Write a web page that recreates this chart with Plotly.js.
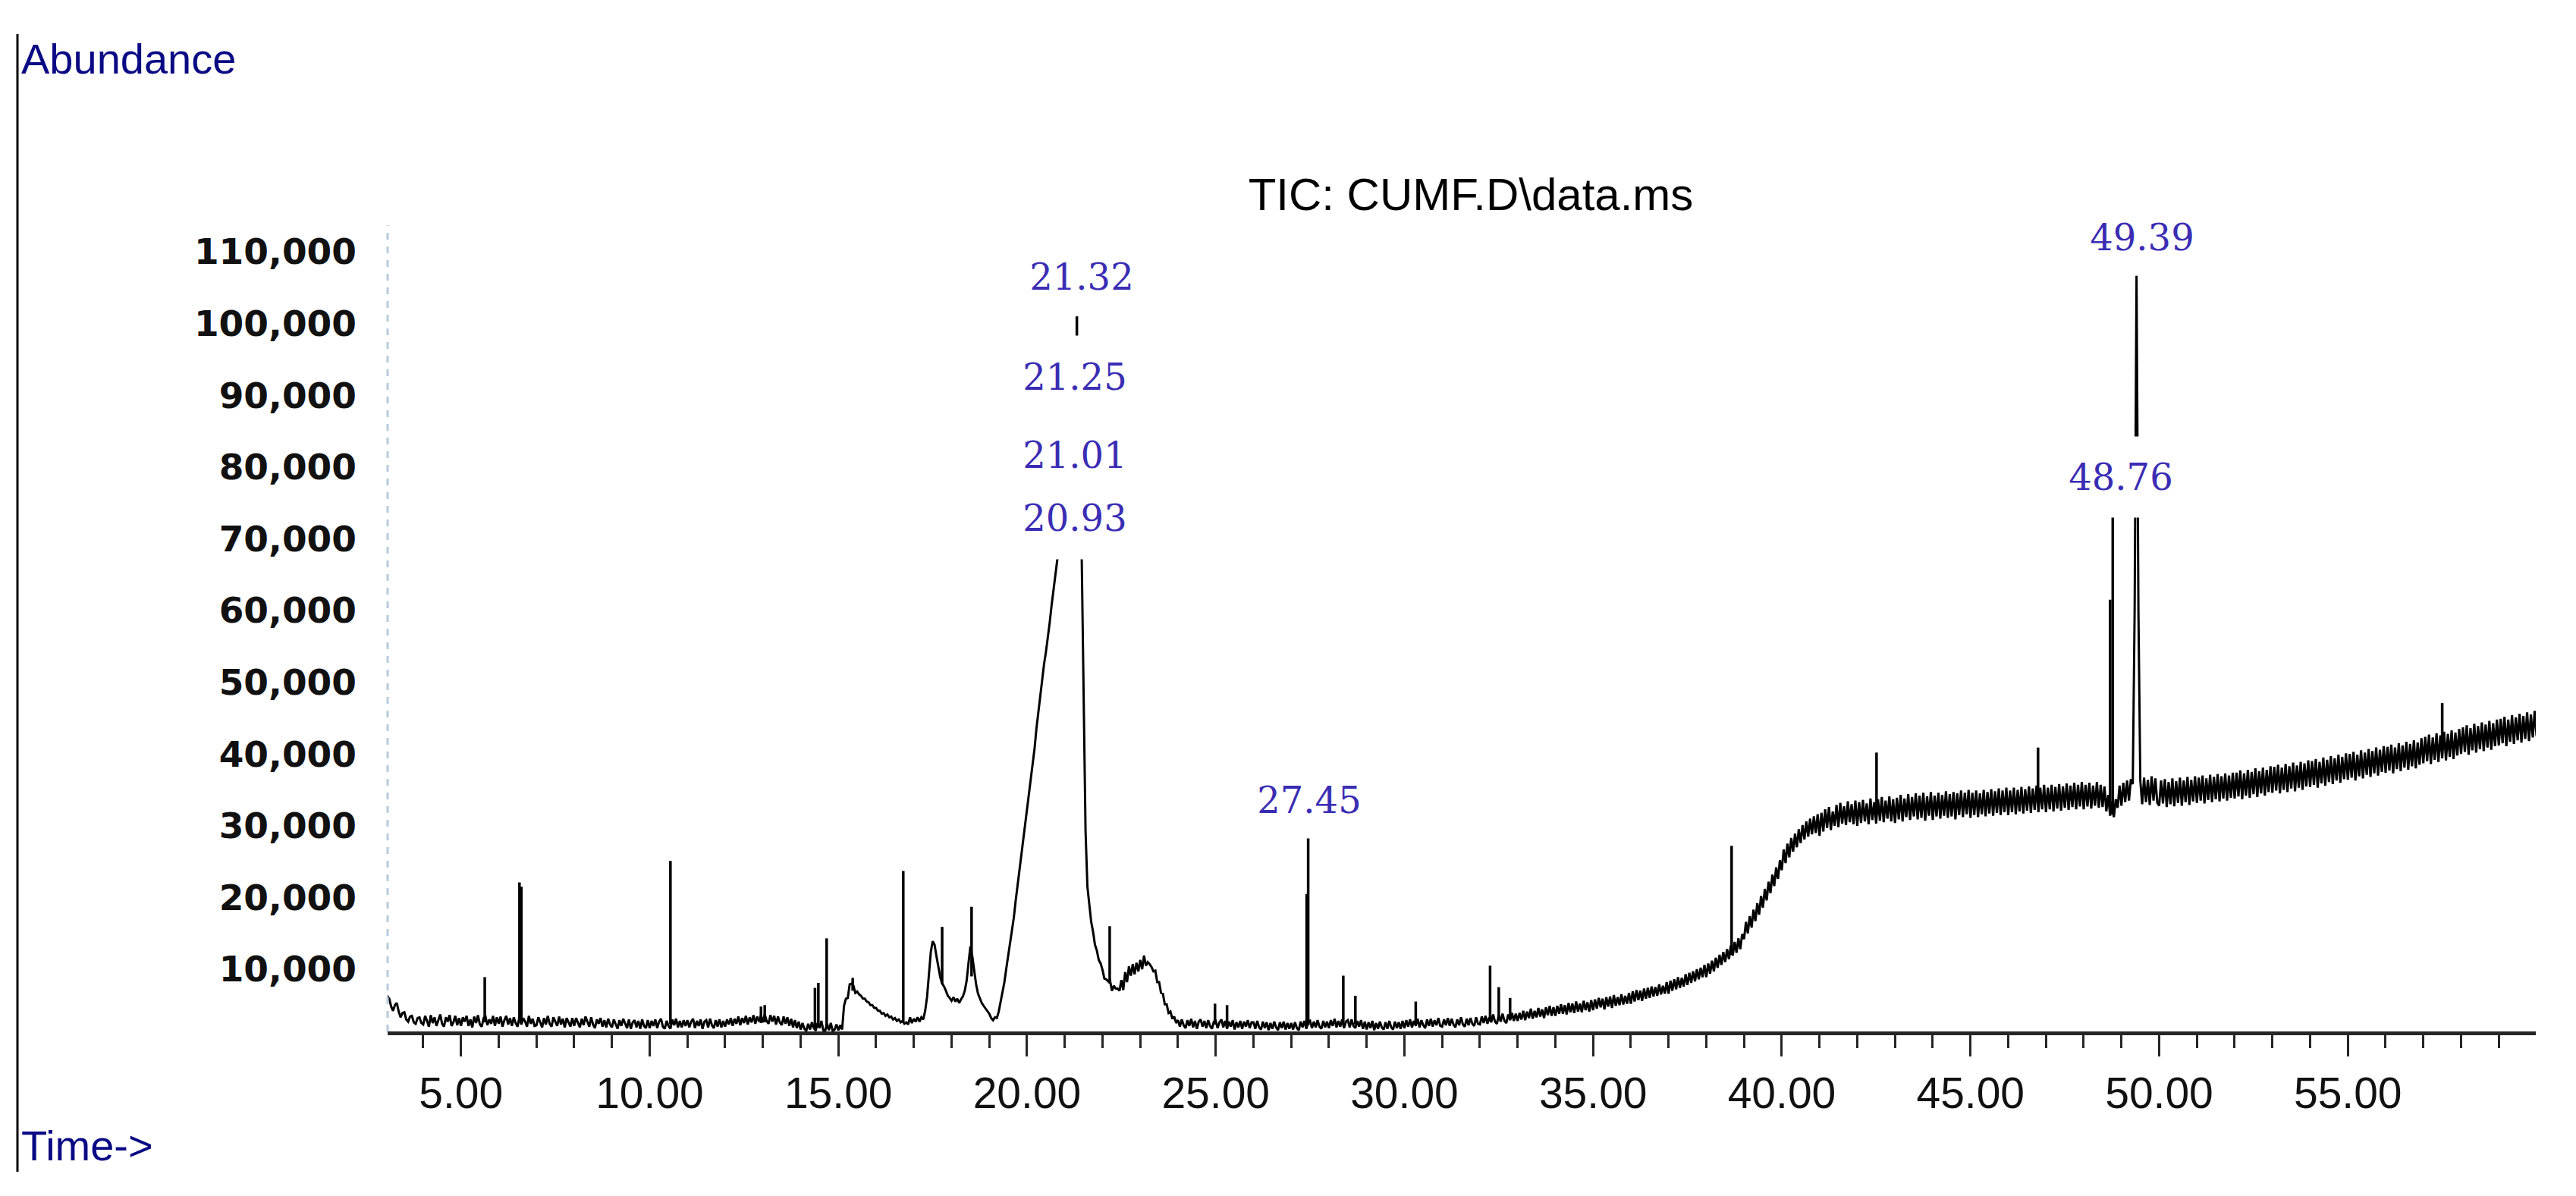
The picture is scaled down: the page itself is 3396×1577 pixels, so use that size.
<!DOCTYPE html>
<html>
<head>
<meta charset="utf-8">
<script src="https://cdn.plot.ly/plotly-3.0.1.min.js"></script>
<style>
  html, body { margin: 0; padding: 0; background: #ffffff; }
  #chart { width: 3396px; height: 1577px; }
</style>
</head>
<body>
<div id="chart"></div>
<script>
// ---------------- DATA ----------------
// Total ion chromatogram, one scan every 0.05 min starting at 3.00 min
const scanStart = 3.0;      // min
const scanInterval = 0.05;  // min
const abundance = [
  // 3.00 - 3.95
  6800, 6200, 5900, 4800, 4200, 5000, 5300, 4100, 3300, 3900, 4000, 3000, 2700, 3400, 3500, 2600, 2400, 3200, 3300, 2500,
  // 4
  2300, 3500, 2800, 2000, 3600, 2500, 3300, 2100, 2900, 3700, 2400, 2000, 3300, 2700, 3600, 2100, 2600, 3500, 2200, 3200,
  // 5
  2100, 3300, 2700, 3500, 2100, 3000, 1900, 3400, 2500, 3600, 2300, 2000, 3200, 3400, 2200, 3000, 2400, 3500, 2100, 3300,
  // 6
  2400, 3400, 2000, 2900, 3500, 2300, 3200, 2100, 3300, 2500, 2000, 3400, 2300, 3200, 2700, 2000, 3500, 2400, 3100, 2100,
  // 7
  2200, 3300, 2600, 1900, 3200, 2300, 3500, 2400, 2000, 3300, 2700, 2100, 3400, 2300, 3100, 1900, 3200, 2500, 2000, 3200,
  // 8
  2100, 3200, 2500, 1900, 3100, 2200, 3400, 2600, 2000, 3300, 2300, 1800, 3000, 2400, 3200, 2000, 2900, 1900, 3100, 2300,
  // 9
  1900, 3000, 2300, 1700, 2900, 2100, 3100, 2400, 1800, 3000, 1700, 2600, 2900, 1900, 2800, 1700, 3000, 2100, 1800, 2900,
  // 10
  1800, 2800, 2100, 3000, 1800, 2700, 3100, 2000, 1700, 2800, 2100, 1700, 3000, 2200, 3100, 1900, 2800, 1900, 2900, 2100,
  // 11
  2900, 1900, 2700, 3100, 1800, 2800, 2100, 3000, 1700, 2700, 2900, 1900, 3100, 2200, 1800, 2900, 2000, 3000, 1900, 2800,
  // 12
  2000, 3000, 2300, 3200, 2100, 3100, 2400, 3400, 2200, 3200, 2500, 3500, 2300, 3300, 2600, 3600, 2400, 3400, 2700, 3600,
  // 13
  2600, 3700, 2800, 2400, 3600, 2700, 3500, 2300, 3400, 2600, 2200, 3400, 2400, 3300, 2100, 3100, 1900, 2900, 1800, 2700,
  // 14
  1600, 2500, 1700, 1400, 2400, 1600, 2600, 1800, 1450, 2500, 1800, 2800, 1500, 1400, 2400, 1500, 2500, 1400, 1600, 2300,
  // 15
  1500, 2200, 1600, 4900, 5900, 6000, 7900, 8000, 7700, 6700, 6900, 6500, 6300, 5900, 5900, 5500, 5400, 5000, 5000, 4600,
  // 16
  4600, 4200, 4200, 3800, 3900, 3500, 3700, 3300, 3400, 3000, 3200, 2800, 3000, 2600, 2800, 2400, 2600, 2300, 3300, 2500,
  // 17
  3100, 2700, 3300, 2700, 3300, 3000, 4200, 6100, 9200, 12400, 13900, 13400, 11800, 10200, 8900, 8000, 7600, 7000, 6300, 6000,
  // 18
  5600, 6100, 5500, 5900, 5300, 5800, 6200, 7000, 8400, 10900, 13200, 11800, 9800, 7900, 6600, 6000, 5300, 4900, 4500, 4200,
  // 19
  3800, 3200, 2900, 3300, 3200, 4100, 5500, 6800, 8200, 10100, 11800, 13500, 15100, 17200, 19600, 21700, 23800, 26200, 28100, 30300,
  // 20
  32200, 34500, 36400, 38900, 40800, 43600, 46000, 48200, 50300, 52500, 54200, 56000, 58300, 60700, 62900, 65000, 67000, 68700, 70500, 73200,
  // 21
  75800, 78000, 80200, 83000, 86000, 90000, 98000, 96000, 85000, 67000, 45000, 29300, 21500, 18800, 16600, 15200, 13400, 12600, 11300, 10800,
  // 22
  9900, 8700, 8600, 8300, 8400, 7000, 7700, 7300, 7300, 7000, 8500, 7100, 9600, 8200, 10400, 9100, 10700, 9300, 10900, 9700,
  // 23
  11300, 10000, 11900, 10500, 11000, 10700, 10300, 9700, 9800, 8200, 8200, 6700, 6600, 5100, 5100, 3900, 4100, 3100, 3400, 2500,
  // 24
  2900, 2000, 3000, 2200, 1800, 2900, 2100, 3100, 1900, 2800, 1700, 2700, 3000, 2000, 2800, 1800, 2900, 2100, 1700, 2700,
  // 25
  2800, 1800, 2600, 3000, 1900, 2800, 1700, 2700, 2000, 2900, 1600, 2600, 1900, 2800, 1700, 2700, 2000, 2900, 1800, 2600,
  // 26
  2600, 1700, 2800, 1900, 1600, 2700, 1800, 2600, 1500, 2500, 1700, 2700, 1900, 1500, 2600, 1800, 2700, 1600, 2500, 1700,
  // 27
  2500, 1600, 2600, 1800, 1500, 2700, 1900, 2800, 1700, 2600, 2800, 1800, 2700, 1900, 2900, 2000, 1700, 2800, 1900, 2700,
  // 28
  1800, 2900, 2100, 3100, 1900, 2800, 2000, 3000, 1800, 2700, 2900, 1900, 3000, 2100, 1800, 2800, 2000, 2900, 1700, 2700,
  // 29
  1600, 2600, 1800, 2800, 1500, 2500, 1700, 2700, 1900, 1600, 2600, 1700, 2800, 1900, 1600, 2700, 1800, 2600, 1700, 2800,
  // 30
  1800, 2900, 2000, 3000, 1900, 2800, 2100, 3100, 1900, 2900, 2200, 1800, 3000, 2100, 3100, 2000, 2900, 2200, 3200, 2100,
  // 31
  2000, 3000, 2200, 3200, 2100, 3100, 2300, 1900, 3000, 2200, 3300, 2300, 2000, 3100, 2200, 3200, 2400, 2100, 3300, 2400,
  // 32
  2300, 3400, 2500, 3500, 2400, 3300, 2600, 3700, 2700, 2400, 3600, 2700, 3800, 2800, 2500, 3700, 2900, 3900, 2800, 3800,
  // 33
  2800, 3900, 3000, 4200, 2900, 4100, 3200, 4500, 3100, 4200, 3300, 4600, 3400, 4400, 3200, 4700, 3600, 4900, 3500, 4700,
  // 34
  3500, 4900, 3800, 5100, 3800, 5000, 3700, 5300, 4000, 5200, 3900, 5500, 4100, 5200, 4000, 5600, 4300, 5400, 4100, 5700,
  // 35
  4300, 5800, 4500, 6000, 4700, 5900, 4400, 6100, 4800, 6200, 4600, 6400, 4900, 6100, 5000, 6500, 5100, 6300, 5200, 6700,
  // 36
  5200, 6900, 5500, 7100, 5700, 7000, 5600, 7300, 5900, 7400, 6000, 7600, 6200, 7500, 6300, 7900, 6500, 7700, 6600, 8200,
  // 37
  6600, 8400, 7000, 8600, 7200, 8900, 7400, 8800, 7600, 9300, 7800, 9500, 8100, 9700, 8300, 10000, 8600, 10200, 8900, 10600,
  // 38
  8900, 10800, 9400, 11200, 9700, 11600, 10200, 12000, 10600, 12400, 11000, 12800, 11400, 13300, 11900, 13800, 12300, 14300, 12800, 14900,
  // 39
  14200, 16600, 15000, 17400, 15800, 18300, 16700, 19200, 17600, 20200, 18600, 21200, 19600, 22200, 20600, 23200, 21600, 24200, 22600, 25200,
  // 40
  23800, 26700, 24800, 27500, 25600, 28300, 26400, 28900, 27000, 29500, 27600, 30100, 28100, 30600, 28500, 31000, 28800, 31300, 29000, 31600,
  // 41
  28600, 31800, 29200, 32300, 29700, 32600, 29400, 32000, 30000, 32900, 29800, 33200, 30300, 32700, 30100, 33400, 30500, 33000, 30200, 33500,
  // 42
  30000, 33300, 30400, 33600, 30600, 33100, 30200, 33800, 30800, 33300, 30300, 33700, 30700, 34000, 30500, 33500, 31000, 34100, 30600, 33700,
  // 43
  30400, 33900, 30900, 34300, 30600, 33800, 31200, 34400, 30800, 34000, 31300, 34500, 30900, 34200, 31100, 34600, 30700, 34100, 31400, 34700,
  // 44
  30800, 34200, 31300, 34600, 31000, 34300, 31400, 34800, 31100, 34400, 31300, 34700, 30900, 34500, 31500, 34900, 31200, 34600, 31600, 35000,
  // 45
  31100, 34600, 31500, 34900, 31200, 34500, 31600, 35000, 31300, 34700, 31700, 35100, 31400, 34800, 31800, 35200, 31500, 34900, 31900, 35300,
  // 46
  31500, 34900, 31900, 35300, 31600, 35000, 32000, 35400, 31700, 35100, 32100, 35500, 31800, 35200, 32200, 35600, 31900, 35300, 32300, 35700,
  // 47
  31900, 35300, 32300, 35700, 32000, 35400, 32400, 35800, 32100, 35500, 32500, 35900, 32200, 35600, 32600, 36000, 32300, 35700, 32700, 36100,
  // 48
  32300, 35700, 32700, 36000, 32400, 35600, 32800, 36100, 32500, 35700, 32600, 35500, 32000, 34300, 31400, 33400, 31200, 33700, 32500, 35600,
  // 49
  32800, 36000, 33300, 36300, 33500, 36500, 35800, 60000, 106700, 60000, 36300, 33000, 36700, 33300, 36400, 32900, 36900, 33500, 36600, 33200,
  // 50
  32800, 36300, 33100, 36500, 32600, 36100, 33000, 36600, 32700, 36200, 33200, 36700, 32800, 36300, 33300, 36800, 32900, 36400, 33400, 36900,
  // 51
  33200, 36700, 33500, 37000, 33100, 36600, 33600, 37100, 33300, 36800, 33700, 37200, 33400, 36900, 33800, 37300, 33500, 37000, 33900, 37400,
  // 52
  33800, 37400, 34100, 37700, 33700, 37300, 34200, 37800, 33900, 37500, 34400, 38000, 34000, 37600, 34500, 38100, 34200, 37800, 34700, 38300,
  // 53
  34600, 38200, 34900, 38500, 34500, 38100, 35000, 38600, 34700, 38300, 35200, 38800, 34800, 38400, 35300, 38900, 35000, 38700, 35500, 39100,
  // 54
  35400, 39000, 35700, 39300, 35300, 38900, 35900, 39500, 35600, 39200, 36100, 39700, 35800, 39400, 36300, 39900, 36000, 39600, 36500, 40100,
  // 55
  36400, 40000, 36700, 40300, 36300, 39900, 36900, 40500, 36600, 40200, 37100, 40700, 36800, 40400, 37300, 40900, 37000, 40600, 37500, 41100,
  // 56
  37400, 41000, 37700, 41300, 37300, 40900, 37900, 41500, 37600, 41200, 38100, 41700, 37800, 41400, 38300, 41900, 38000, 41600, 38500, 42200,
  // 57
  38700, 42400, 39000, 42700, 38600, 42300, 39200, 42900, 38900, 42600, 39400, 43100, 39100, 42800, 39600, 43300, 39300, 43000, 39800, 43500,
  // 58
  40000, 43700, 40300, 44000, 39900, 43600, 40500, 44200, 40200, 43900, 40700, 44400, 40400, 44100, 40900, 44600, 40600, 44300, 41100, 44800,
  // 59
  41200, 44900, 41500, 45200, 41100, 44800, 41700, 45400, 41400, 45100, 41900, 45600, 41600, 45300, 42100, 45800, 41800, 45500, 42300, 46000,
  // 60.00
  42500
];

// Narrow (single-scan) peaks drawn as vertical strokes
const spikeRT   = [5.63, 6.55, 6.60, 10.55, 12.95, 13.05, 14.38, 14.47, 14.69, 15.38, 16.72, 17.75, 18.53, 21.32, 22.19, 24.98, 25.30, 27.41, 27.45, 28.38, 28.70, 30.30, 32.27, 32.50, 32.80, 38.67, 42.51, 46.79, 48.70, 48.77, 57.50];
const spikeBase = [2600, 2600, 2600, 2300, 2500, 2600, 1800, 1900, 1700, 7000, 2700, 8000, 9000, 96000, 8000, 2300, 2200, 2200, 2200, 2400, 2300, 2400, 2800, 2900, 3000, 12000, 31500, 33000, 31600, 31500, 41000];
const spikeTop  = [8900, 22100, 21500, 25100, 4800, 5000, 7400, 8100, 14300, 8800, 23700, 15900, 18700, 101000, 16000, 5200, 5000, 20500, 28900, 9100, 6300, 5500, 10500, 7500, 6000, 27200, 40200, 40900, 61500, 78000, 47100];

// Retention-time labels of integrated peaks
const peakLabels = ["21.32", "21.25", "21.01", "20.93", "27.45", "48.76", "49.39"];

// Axis tick values
const yTickVals = [10000, 20000, 30000, 40000, 50000, 60000, 70000, 80000, 90000, 100000, 110000];

// ---------------- BUILD TRACES ----------------
const rt = abundance.map((_, i) => +(scanStart + i * scanInterval).toFixed(2));

const spikeX = [], spikeY = [];
spikeRT.forEach((t, i) => {
  spikeX.push(t, t, null);
  spikeY.push(spikeBase[i], spikeTop[i], null);
});

const traces = [
  {
    type: 'scatter', mode: 'lines', x: rt, y: abundance,
    line: { color: '#000000', width: 3 }, hoverinfo: 'skip', showlegend: false
  },
  {
    type: 'scatter', mode: 'lines', x: spikeX, y: spikeY,
    line: { color: '#000000', width: 3.5 }, hoverinfo: 'skip', showlegend: false,
    connectgaps: false
  }
];

// label placement (x in min, y in abundance units) and white box heights – layout only
const labelPos = [
  [21.448, 106500], [21.267, 92560], [21.267, 81670], [21.267, 72900],
  [27.481, 33570], [48.986, 78600], [49.549, 112000]
];
const labelBoxH = [98, 106, 106, 106, 98, 104, 98];

const labelFont = { family: 'DejaVu Serif, Liberation Serif, serif', size: 48, color: '#3a2db4' };
const annotations = peakLabels.map((txt, i) => ({
  x: labelPos[i][0], y: labelPos[i][1], xref: 'x', yref: 'y',
  text: txt, showarrow: false, font: labelFont,
  bgcolor: '#ffffff', width: 152, height: labelBoxH[i],
  xanchor: 'center', yanchor: 'middle'
}));

// Plot-area margins (px)
const M = { l: 511, r: 53, t: 297, b: 217 };
const plotW = 3396 - M.l - M.r, plotH = 1577 - M.t - M.b;

annotations.push({
  xref: 'paper', yref: 'paper',
  x: (26 - M.l) / plotW, y: (1360 - 77) / plotH,
  xanchor: 'left', yanchor: 'middle', showarrow: false,
  text: 'Abundance',
  font: { family: 'Liberation Sans, Arial, sans-serif', size: 56, color: '#0a0a84' }
});
annotations.push({
  xref: 'paper', yref: 'paper',
  x: (26 - M.l) / plotW, y: (1360 - 1510) / plotH,
  xanchor: 'left', yanchor: 'middle', showarrow: false,
  text: 'Time-&gt;',
  font: { family: 'Liberation Sans, Arial, sans-serif', size: 56, color: '#0a0a84' }
});

const layout = {
  width: 3396, height: 1577,
  margin: M,
  paper_bgcolor: '#ffffff', plot_bgcolor: '#ffffff',
  showlegend: false,
  title: {
    text: 'TIC: CUMF.D\\data.ms',
    font: { family: 'Liberation Sans, Arial, sans-serif', size: 60, color: '#000000' },
    x: 1939 / 3396, xanchor: 'center', xref: 'container',
    y: 1 - 256 / 1577, yanchor: 'middle', yref: 'container'
  },
  xaxis: {
    range: [3.056, 59.98],
    tick0: 0, dtick: 5, tickformat: '.2f',
    showgrid: false, zeroline: false,
    showline: true, linecolor: '#262626', linewidth: 5,
    ticks: 'outside', ticklen: 28, tickwidth: 3, tickcolor: '#262626',
    minor: { dtick: 1, ticks: 'outside', ticklen: 17, tickwidth: 3, tickcolor: '#262626', showgrid: false },
    tickfont: { family: 'Liberation Sans, Arial, sans-serif', size: 57, color: '#111111' },
    fixedrange: true
  },
  yaxis: {
    range: [1332, 113700],
    tickmode: 'array', tickvals: yTickVals, tickformat: ',d',
    showgrid: false, zeroline: false, showline: false,
    ticks: '',
    ticklabelstandoff: 40,
    tickfont: { family: 'DejaVu Sans, Verdana, sans-serif', size: 47, color: '#111111', weight: 700 },
    fixedrange: true
  },
  shapes: [
    // dashed ordinate line
    { type: 'line', xref: 'paper', yref: 'paper', x0: 0, x1: 0, y0: 0, y1: 1,
      line: { color: '#b7cbdc', width: 3, dash: 'dash' } },
    // window frame line at far left
    { type: 'line', xref: 'paper', yref: 'paper',
      x0: (23 - M.l) / plotW, x1: (23 - M.l) / plotW,
      y0: (1360 - 45) / plotH, y1: (1360 - 1545) / plotH,
      line: { color: '#000000', width: 3 } }
  ],
  annotations: annotations
};

Plotly.newPlot('chart', traces, layout, { staticPlot: true, displayModeBar: false });
</script>
</body>
</html>
